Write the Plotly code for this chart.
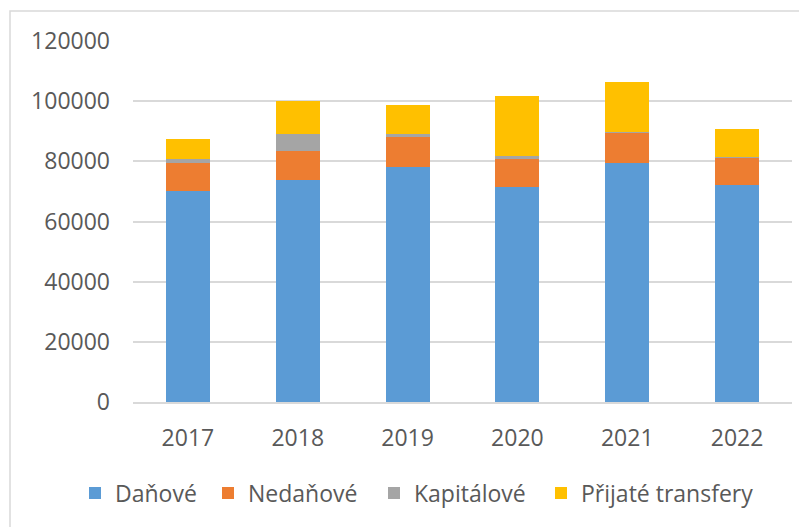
import plotly.graph_objects as go

years = ["2017", "2018", "2019", "2020", "2021", "2022"]
danove = [70100, 73800, 78200, 71600, 79600, 72100]
nedanove = [9200, 9800, 10000, 9100, 9900, 9200]
kapitalove = [1400, 5400, 800, 1100, 200, 100]
transfery = [6800, 11200, 9600, 19800, 16700, 9200]

names = ["Daňové", "Nedaňové", "Kapitálové", "Přijaté transfery"]
colors = ["#5B9BD5", "#ED7D31", "#A5A5A5", "#FFC000"]
series = [danove, nedanove, kapitalove, transfery]
legend_ids = ["legend2", "legend3", "legend4", "legend5"]
legend_px = [89, 222, 388, 555]   # screen x where each legend square starts

OFF = 8  # page body margin
W, H = 807, 527
L, R, T, B = 133 - OFF, 807 - (792 - OFF), 41 - OFF, 527 - (402 - OFF)
pw, ph = W - L - R, H - T - B

def px_x(p):
    return (p - OFF - L) / pw

def px_y(p):
    return (H - B - (p - OFF)) / ph

fig = go.Figure()
for n, c, s, lg in zip(names, colors, series, legend_ids):
    fig.add_trace(go.Bar(x=years, y=s, name=n, legend=lg, showlegend=True,
                         marker=dict(color=c, line=dict(width=0))))

fig.add_shape(type="rect", xref="paper", yref="paper",
              x0=px_x(10), x1=px_x(840), y0=px_y(560), y1=px_y(11),
              line=dict(color="#D9D9D9", width=1.5), fillcolor="rgba(0,0,0,0)", layer="below")

FS = 23
layout_legends = {}
for lg, xp in zip(legend_ids, legend_px):
    layout_legends[lg] = dict(orientation="h", x=px_x(xp - 14), xanchor="left",
                              y=px_y(493), yanchor="middle", font=dict(size=FS),
                              itemwidth=30, bgcolor="rgba(0,0,0,0)", visible=True)

fig.update_layout(
    width=W, height=H,
    barmode="stack",
    bargap=0.6,
    showlegend=True,
    margin=dict(l=L, r=R, t=T, b=B),
    plot_bgcolor="white",
    paper_bgcolor="white",
    font=dict(family="Open Sans, Liberation Sans, sans-serif", size=FS, color="#595959"),
    xaxis=dict(showline=True, linecolor="#D9D9D9", linewidth=1.5, ticks="", tickfont=dict(size=FS),
               showgrid=False, ticklabelstandoff=15),
    yaxis=dict(range=[0, 120000], dtick=20000, showgrid=True, gridcolor="#D9D9D9", gridwidth=1.5,
               zeroline=False, ticks="", tickformat="d", tickfont=dict(size=FS), ticklabelstandoff=22),
    **layout_legends,
)

fig.write_html("out.html")
